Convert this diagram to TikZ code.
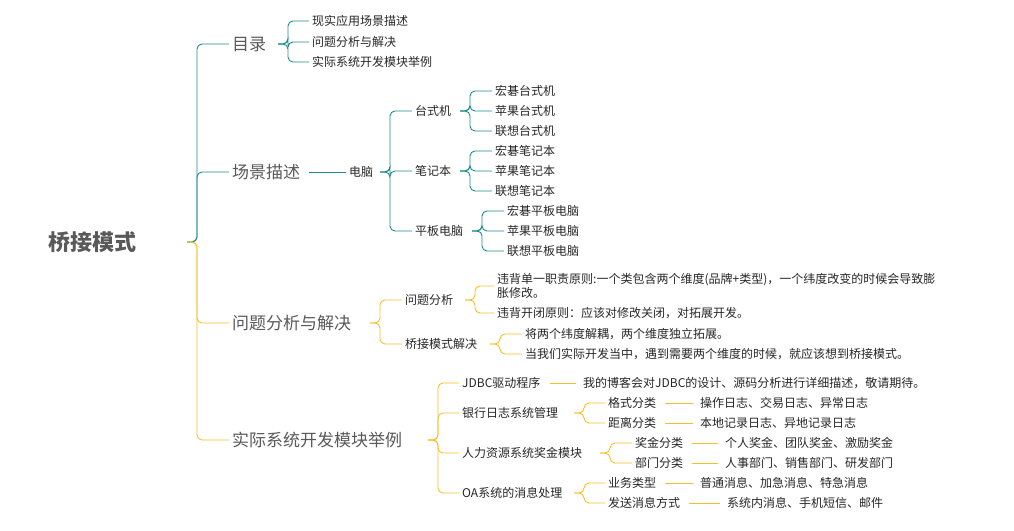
\documentclass[tikz,border=0pt]{standalone}
\usepackage{fontspec}
\newfontfamily\cjk{Noto Sans CJK SC}
\definecolor{teal1}{HTML}{1E8C8C}
\definecolor{gold1}{HTML}{F5BF2A}
\begin{document}
\begin{tikzpicture}[x=1pt,y=-1pt,
  every node/.style={anchor=west,inner sep=3pt,font=\cjk\fontsize{12}{14}\selectfont,text=black!85},
  lone/.style={font=\cjk\fontsize{22}{24}\selectfont\bfseries,text=black!65},
  lone1/.style={font=\cjk\fontsize{17}{19}\selectfont,text=black!65},
  tl/.style={draw=teal1,line width=0.9pt,rounded corners=5pt},
  gl/.style={draw=gold1,line width=0.9pt,rounded corners=5pt}]
\useasboundingbox (0,0) rectangle (1014,530);
\newcommand\cn[4]{\draw[#1] ([xshift=-10]#2.east -| #4) -- (#2.east -| #4) |- (#3.west);}
\node[lone] (r) at (45,242) {桥接模式};
\coordinate (s0) at (197,0);
\node[lone1] (a) at (229,44) {目录};
\node[lone1] (b) at (229,172) {场景描述};
\node[lone1] (c) at (229,323) {问题分析与解决};
\node[lone1] (d) at (229,440) {实际系统开发模块举例};
\cn{tl}{r}{a}{s0}\cn{tl}{r}{b}{s0}\cn{gl}{r}{c}{s0}\cn{gl}{r}{d}{s0}
% 目录
\coordinate (sa) at (288,0);
\node (a1) at (309,21) {现实应用场景描述};
\node (a2) at (309,42) {问题分析与解决};
\node (a3) at (309,62) {实际系统开发模块举例};
\cn{tl}{a}{a1}{sa}\cn{tl}{a}{a2}{sa}\cn{tl}{a}{a3}{sa}
% 场景
\node (pc) at (346,172) {电脑};
\draw[tl] (b.east) ++(6,0) -- (pc.west);
\coordinate (sp) at (390,0);
\node (t) at (412,111) {台式机};
\node (n) at (412,171) {笔记本};
\node (p) at (412,231) {平板电脑};
\cn{tl}{pc}{t}{sp}\cn{tl}{pc}{n}{sp}\cn{tl}{pc}{p}{sp}
\coordinate (st) at (470,0);
\node (t1) at (492,91) {宏碁台式机};
\node (t2) at (492,111) {苹果台式机};
\node (t3) at (492,131) {联想台式机};
\cn{tl}{t}{t1}{st}\cn{tl}{t}{t2}{st}\cn{tl}{t}{t3}{st}
\node (n1) at (492,151) {宏碁笔记本};
\node (n2) at (492,171) {苹果笔记本};
\node (n3) at (492,191) {联想笔记本};
\cn{tl}{n}{n1}{st}\cn{tl}{n}{n2}{st}\cn{tl}{n}{n3}{st}
\coordinate (spp) at (482,0);
\node (p1) at (504,211) {宏碁平板电脑};
\node (p2) at (504,231) {苹果平板电脑};
\node (p3) at (504,251) {联想平板电脑};
\cn{tl}{p}{p1}{spp}\cn{tl}{p}{p2}{spp}\cn{tl}{p}{p3}{spp}
% 问题分析
\coordinate (sc) at (380,0);
\node (c1) at (402,300) {问题分析};
\node (c2) at (402,344) {桥接模式解决};
\cn{gl}{c}{c1}{sc}\cn{gl}{c}{c2}{sc}
\coordinate (sc1) at (475,0);
\node[align=left] (c11) at (494,286) {违背单一职责原则:一个类包含两个维度(品牌+类型)，一个纬度改变的时候会导致膨\\胀修改。};
\node (c12) at (494,313) {违背开闭原则：应该对修改关闭，对拓展开发。};
\cn{gl}{c1}{c11}{sc1}\cn{gl}{c1}{c12}{sc1}
\coordinate (sc2) at (500,0);
\node (c21) at (522,334) {将两个纬度解耦，两个维度独立拓展。};
\node (c22) at (522,354) {当我们实际开发当中，遇到需要两个维度的时候，就应该想到桥接模式。};
\cn{gl}{c2}{c21}{sc2}\cn{gl}{c2}{c22}{sc2}
% 实际系统
\coordinate (sd) at (438,0);
\node (d1) at (459,383) {JDBC驱动程序};
\node (d2) at (459,413) {银行日志系统管理};
\node (d3) at (459,453) {人力资源系统奖金模块};
\node (d4) at (459,493) {OA系统的消息处理};
\cn{gl}{d}{d1}{sd}\cn{gl}{d}{d2}{sd}\cn{gl}{d}{d3}{sd}\cn{gl}{d}{d4}{sd}
\node (d11) at (580,383) {我的博客会对JDBC的设计、源码分析进行详细描述，敬请期待。};
\draw[gl] (d1.east) ++(6,0) -- ([xshift=-4]d11.west);
\coordinate (sd2) at (584,0);
\node (e1) at (605,403) {格式分类};
\node (e2) at (605,423) {距离分类};
\cn{gl}{d2}{e1}{sd2}\cn{gl}{d2}{e2}{sd2}
\node (e11) at (697,403) {操作日志、交易日志、异常日志};
\node (e21) at (697,423) {本地记录日志、异地记录日志};
\draw[gl] (e1.east) ++(6,0) -- ([xshift=-4]e11.west);
\draw[gl] (e2.east) ++(6,0) -- ([xshift=-4]e21.west);
\coordinate (sd3) at (610,0);
\node (f1) at (632,443) {奖金分类};
\node (f2) at (632,463) {部门分类};
\cn{gl}{d3}{f1}{sd3}\cn{gl}{d3}{f2}{sd3}
\node (f11) at (722,443) {个人奖金、团队奖金、激励奖金};
\node (f21) at (722,463) {人事部门、销售部门、研发部门};
\draw[gl] (f1.east) ++(6,0) -- ([xshift=-4]f11.west);
\draw[gl] (f2.east) ++(6,0) -- ([xshift=-4]f21.west);
\coordinate (sd4) at (584,0);
\node (g1) at (605,483) {业务类型};
\node (g2) at (605,503) {发送消息方式};
\cn{gl}{d4}{g1}{sd4}\cn{gl}{d4}{g2}{sd4}
\node (g11) at (697,483) {普通消息、加急消息、特急消息};
\node (g21) at (724,503) {系统内消息、手机短信、邮件};
\draw[gl] (g1.east) ++(6,0) -- ([xshift=-4]g11.west);
\draw[gl] (g2.east) ++(6,0) -- ([xshift=-4]g21.west);
\end{tikzpicture}
\end{document}
